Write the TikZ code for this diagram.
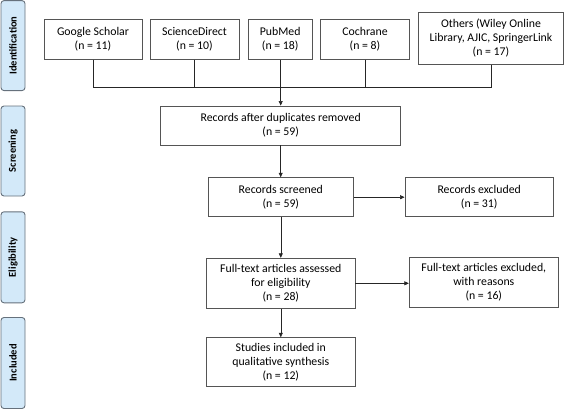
\documentclass[tikz,border=0pt]{standalone}
\usepackage{fontspec}
\setmainfont{Carlito}
\usepackage{tikz}
\usetikzlibrary{arrows.meta, positioning}

\definecolor{phasefill}{HTML}{D3E9F9}
\definecolor{phaseline}{HTML}{66717C}
\definecolor{boxline}{HTML}{555555}

\tikzset{
  flowbox/.style={draw=boxline, line width=0.9pt, fill=white, align=center,
    inner sep=2pt, font=\fontsize{11.8}{14.3}\selectfont},
  phase/.style={draw=phaseline, line width=0.9pt, fill=phasefill, rounded corners=3pt,
    minimum width=24pt, inner sep=0pt, font=\fontsize{10.5}{12}\selectfont\bfseries},
  link/.style={line width=0.6pt, draw=black!85},
  flow/.style={link, -{Triangle[length=4.5pt,width=4pt]}}
}

\begin{document}
\begin{tikzpicture}[x=1pt, y=-1pt]
        \useasboundingbox (0,0) rectangle (565,410);
        % Phase labels
        \node[phase, minimum height=90pt] (idf) at (13,45.6) {\rotatebox{90}{Identification}};
        \node[phase, minimum height=90pt] (scn) at (13,151) {\rotatebox{90}{Screening}};
        \node[phase, minimum height=91pt] (elg) at (13,257.3) {\rotatebox{90}{Eligibility}};
        \node[phase, minimum height=91pt] (inl) at (13,363) {\rotatebox{90}{Included}};
        % Sources
        \node[flowbox, minimum width=98pt, minimum height=40pt] (gs) at (93,39.2) {Google Scholar\\(n = 11)};
        \node[flowbox, minimum width=89pt, minimum height=40pt] (sd) at (194.5,39.2) {ScienceDirect\\(n = 10)};
        \node[flowbox, minimum width=64pt, minimum height=40pt] (pm) at (280.2,39.2) {PubMed\\(n = 18)};
        \node[flowbox, minimum width=88.6pt, minimum height=40pt] (co) at (365,39.2) {Cochrane\\(n = 8)};
        \node[flowbox, minimum width=145pt, minimum height=51.7pt] (ot) at (491,38.2) {Others (Wiley Online\\Library, AJIC, SpringerLink\\(n = 17)};
        % Screening and eligibility
        \node[flowbox, minimum width=240pt, minimum height=39pt] (dup) at (280.7,125.5) {Records after duplicates removed\\(n = 59)};
        \node[flowbox, minimum width=145pt, minimum height=39pt] (scr) at (280.8,197.2) {Records screened\\(n = 59)};
        \node[flowbox, minimum width=148.3pt, minimum height=39pt] (exc) at (479.2,197.2) {Records excluded\\(n = 31)};
        \node[flowbox, minimum width=148.3pt, minimum height=50pt] (ft) at (280.8,283.3) {Full-text articles assessed\\for eligibility\\(n = 28)};
        \node[flowbox, minimum width=149pt, minimum height=49.3pt] (fte) at (483.8,282.3) {Full-text articles excluded,\\with reasons\\(n = 16)};
        \node[flowbox, minimum width=148.3pt, minimum height=49pt] (inc) at (280.8,362.2) {Studies included in\\qualitative synthesis\\(n = 12)};
        % Merge line
        \coordinate (merge) at (280.7,87.7);
        \foreach \src in {gs, sd, pm, co, ot}
          \draw[link] (\src.south) -- (\src.south |- merge);
        \draw[link] (gs.south |- merge) -- (ot.south |- merge);
        \draw[flow] (merge) -- (merge |- dup.north);
        % Arrows
        \draw[flow] (dup.south) -- (dup.south |- scr.north);
        \draw[flow] (scr.east) -- (exc.west);
        \draw[flow] (scr.south) -- (scr.south |- ft.north);
        \draw[flow] (ft.east) -- (ft.east -| fte.west);
        \draw[flow] (ft.south) -- (inc.north);
    \end{tikzpicture}
\end{document}
